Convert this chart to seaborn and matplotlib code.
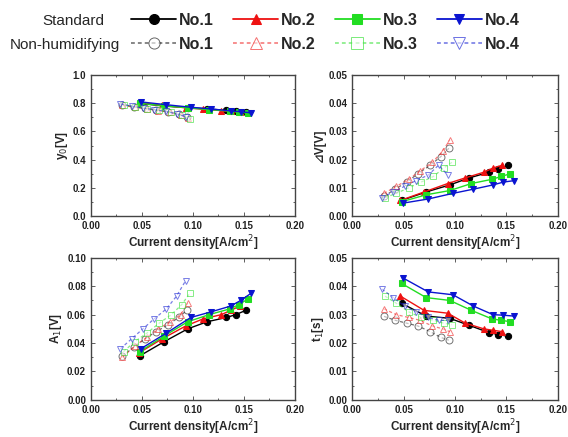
import numpy as np
import matplotlib
matplotlib.use("Agg")
import matplotlib.pyplot as plt
import seaborn as sns
from matplotlib.ticker import AutoMinorLocator

sns.set_style("ticks")
plt.rcParams['font.family'] = ['Liberation Sans', 'DejaVu Sans']

# ---- data ----
names = ['No.1', 'No.2', 'No.3', 'No.4']
colors = ['#000000', '#ee1111', '#22dd22', '#0a14d0']
std_markers = ['o', '^', 's', 'v']

# current density, standard condition
x_std = {
    'No.1': [0.048, 0.072, 0.095, 0.114, 0.133, 0.142, 0.152],
    'No.2': [0.047, 0.070, 0.093, 0.110, 0.128, 0.137, 0.146],
    'No.3': [0.048, 0.072, 0.095, 0.116, 0.136, 0.145, 0.154],
    'No.4': [0.049, 0.074, 0.098, 0.118, 0.137, 0.147, 0.157],
}
# current density, non-humidifying condition
x_nh = {
    'No.1': [0.031, 0.042, 0.053, 0.064, 0.076, 0.086, 0.094],
    'No.2': [0.031, 0.043, 0.055, 0.066, 0.078, 0.088, 0.095],
    'No.3': [0.032, 0.043, 0.055, 0.067, 0.079, 0.089, 0.097],
    'No.4': [0.029, 0.040, 0.051, 0.062, 0.074, 0.084, 0.093],
}

y0_std = {
    'No.1': [0.800, 0.780, 0.770, 0.760, 0.750, 0.742, 0.735],
    'No.2': [0.805, 0.785, 0.768, 0.758, 0.748, 0.742, 0.736],
    'No.3': [0.800, 0.782, 0.768, 0.755, 0.745, 0.738, 0.730],
    'No.4': [0.810, 0.790, 0.772, 0.760, 0.746, 0.740, 0.732],
}
y0_nh = {
    'No.1': [0.790, 0.775, 0.765, 0.752, 0.740, 0.722, 0.700],
    'No.2': [0.785, 0.772, 0.760, 0.748, 0.735, 0.718, 0.695],
    'No.3': [0.790, 0.775, 0.762, 0.750, 0.738, 0.715, 0.685],
    'No.4': [0.795, 0.780, 0.766, 0.755, 0.742, 0.725, 0.705],
}

dv_std = {
    'No.1': [0.0055, 0.0085, 0.0110, 0.0135, 0.0155, 0.0165, 0.0180],
    'No.2': [0.0055, 0.0085, 0.0115, 0.0135, 0.0155, 0.0170, 0.0180],
    'No.3': [0.0050, 0.0075, 0.0090, 0.0115, 0.0130, 0.0140, 0.0150],
    'No.4': [0.0045, 0.0060, 0.0080, 0.0095, 0.0110, 0.0120, 0.0125],
}
dv_nh = {
    'No.1': [0.0070, 0.0095, 0.0120, 0.0150, 0.0180, 0.0210, 0.0240],
    'No.2': [0.0080, 0.0105, 0.0130, 0.0160, 0.0190, 0.0230, 0.0270],
    'No.3': [0.0065, 0.0080, 0.0100, 0.0120, 0.0140, 0.0170, 0.0190],
    'No.4': [0.0065, 0.0085, 0.0105, 0.0125, 0.0145, 0.0180, 0.0145],
}

a1_std = {
    'No.1': [0.031, 0.041, 0.050, 0.055, 0.058, 0.060, 0.063],
    'No.2': [0.033, 0.043, 0.052, 0.057, 0.060, 0.063, 0.066],
    'No.3': [0.034, 0.045, 0.055, 0.060, 0.064, 0.067, 0.071],
    'No.4': [0.036, 0.047, 0.058, 0.062, 0.066, 0.070, 0.075],
}
a1_nh = {
    'No.1': [0.031, 0.037, 0.043, 0.048, 0.053, 0.058, 0.063],
    'No.2': [0.030, 0.038, 0.044, 0.050, 0.055, 0.060, 0.068],
    'No.3': [0.034, 0.041, 0.047, 0.054, 0.060, 0.067, 0.075],
    'No.4': [0.036, 0.043, 0.050, 0.057, 0.064, 0.073, 0.084],
}

t1_std = {
    'No.1': [0.0340, 0.0295, 0.0287, 0.0262, 0.0237, 0.0230, 0.0224],
    'No.2': [0.0365, 0.0315, 0.0305, 0.0270, 0.0250, 0.0245, 0.0240],
    'No.3': [0.0410, 0.0360, 0.0350, 0.0315, 0.0285, 0.0280, 0.0275],
    'No.4': [0.0430, 0.0380, 0.0370, 0.0330, 0.0300, 0.0298, 0.0295],
}
t1_nh = {
    'No.1': [0.0294, 0.0280, 0.0270, 0.0260, 0.0240, 0.0220, 0.0210],
    'No.2': [0.0320, 0.0300, 0.0290, 0.0280, 0.0260, 0.0250, 0.0240],
    'No.3': [0.0365, 0.0340, 0.0310, 0.0290, 0.0280, 0.0270, 0.0265],
    'No.4': [0.0390, 0.0360, 0.0330, 0.0310, 0.0290, 0.0280, 0.0280],
}

panels = [
    (y0_std, y0_nh, 'y$_0$[V]', 1.0, 0.2),
    (dv_std, dv_nh, '\u22bfV[V]', 0.05, 0.01),
    (a1_std, a1_nh, 'A$_1$[V]', 0.10, 0.02),
    (t1_std, t1_nh, 't$_1$[s]', 0.05, 0.01),
]
positions = [
    [0.160, 0.506, 0.359, 0.322],
    [0.620, 0.506, 0.362, 0.322],
    [0.160, 0.085, 0.359, 0.325],
    [0.620, 0.085, 0.362, 0.325],
]

fig = plt.figure(figsize=(5.68, 4.37), dpi=100)

axes = []
for (ystd, ynh, ylab, ymax, ystep), pos in zip(panels, positions):
    ax = fig.add_axes(pos)
    for name, c, m in zip(names, colors, std_markers):
        sns.lineplot(x=x_std[name], y=ystd[name], ax=ax, color=c, marker=m,
                     markersize=4.5, markerfacecolor=c, markeredgecolor=c,
                     linewidth=1.0, sort=False)
    for name, c, m in zip(names, colors, std_markers):
        sns.lineplot(x=x_nh[name], y=ynh[name], ax=ax, color=c, marker=m,
                     markersize=5, markerfacecolor='white', markeredgecolor=c,
                     markeredgewidth=0.7, linewidth=0.9, linestyle=(0, (2.5, 2)),
                     alpha=0.55, sort=False)
    ax.set_xlim(0, 0.2)
    ax.set_ylim(0, ymax)
    ax.set_xticks(np.arange(0, 0.201, 0.05))
    ax.set_yticks(np.arange(0, ymax + ystep / 2, ystep))
    ax.xaxis.set_major_formatter(plt.FormatStrFormatter('%.2f'))
    if ymax == 1.0:
        ax.yaxis.set_major_formatter(plt.FormatStrFormatter('%.1f'))
    else:
        ax.yaxis.set_major_formatter(plt.FormatStrFormatter('%.2f'))
    ax.xaxis.set_minor_locator(AutoMinorLocator(2))
    ax.yaxis.set_minor_locator(AutoMinorLocator(2))
    ax.tick_params(which='both', direction='in', top=True, right=True,
                   width=0.6, colors='#444444', labelcolor='#222222')
    ax.tick_params(which='major', length=3, labelsize=7)
    ax.tick_params(which='minor', length=1.5)
    for lbl in ax.get_xticklabels() + ax.get_yticklabels():
        lbl.set_fontweight('bold')
    for sp in ax.spines.values():
        sp.set_color('#444444')
        sp.set_linewidth(1.0)
    ax.set_xlabel('Current density[A/cm$^2$]', fontsize=8.5, fontweight='bold',
                  labelpad=2)
    ax.set_ylabel(ylab, fontsize=8.5, fontweight='bold', labelpad=2)
    axes.append(ax)

# ---- legend rows at the top ----
lines = axes[0].get_lines()
std_lines = lines[:4]
nh_lines = lines[4:8]
leg_kw = dict(ncol=4, frameon=False, handlelength=2.8, handletextpad=0.2,
              columnspacing=1.2, prop={'weight': 'bold', 'size': 11.5},
              borderaxespad=0, loc='center', markerscale=1.6)
leg1 = fig.legend(std_lines, names, bbox_to_anchor=(0.573, 0.953), **leg_kw)
leg2 = fig.legend(nh_lines, names, bbox_to_anchor=(0.573, 0.898), **leg_kw)
for h in leg1.legend_handles:
    h.set_alpha(1)
    h.set_linewidth(1.3)
for h in leg2.legend_handles:
    h.set_alpha(0.6)
    h.set_linewidth(1.1)

fig.text(0.129, 0.953, 'Standard', ha='center', va='center', fontsize=11)
fig.text(0.114, 0.898, 'Non-humidifying', ha='center', va='center', fontsize=11)

plt.savefig('out.png', dpi=100)
